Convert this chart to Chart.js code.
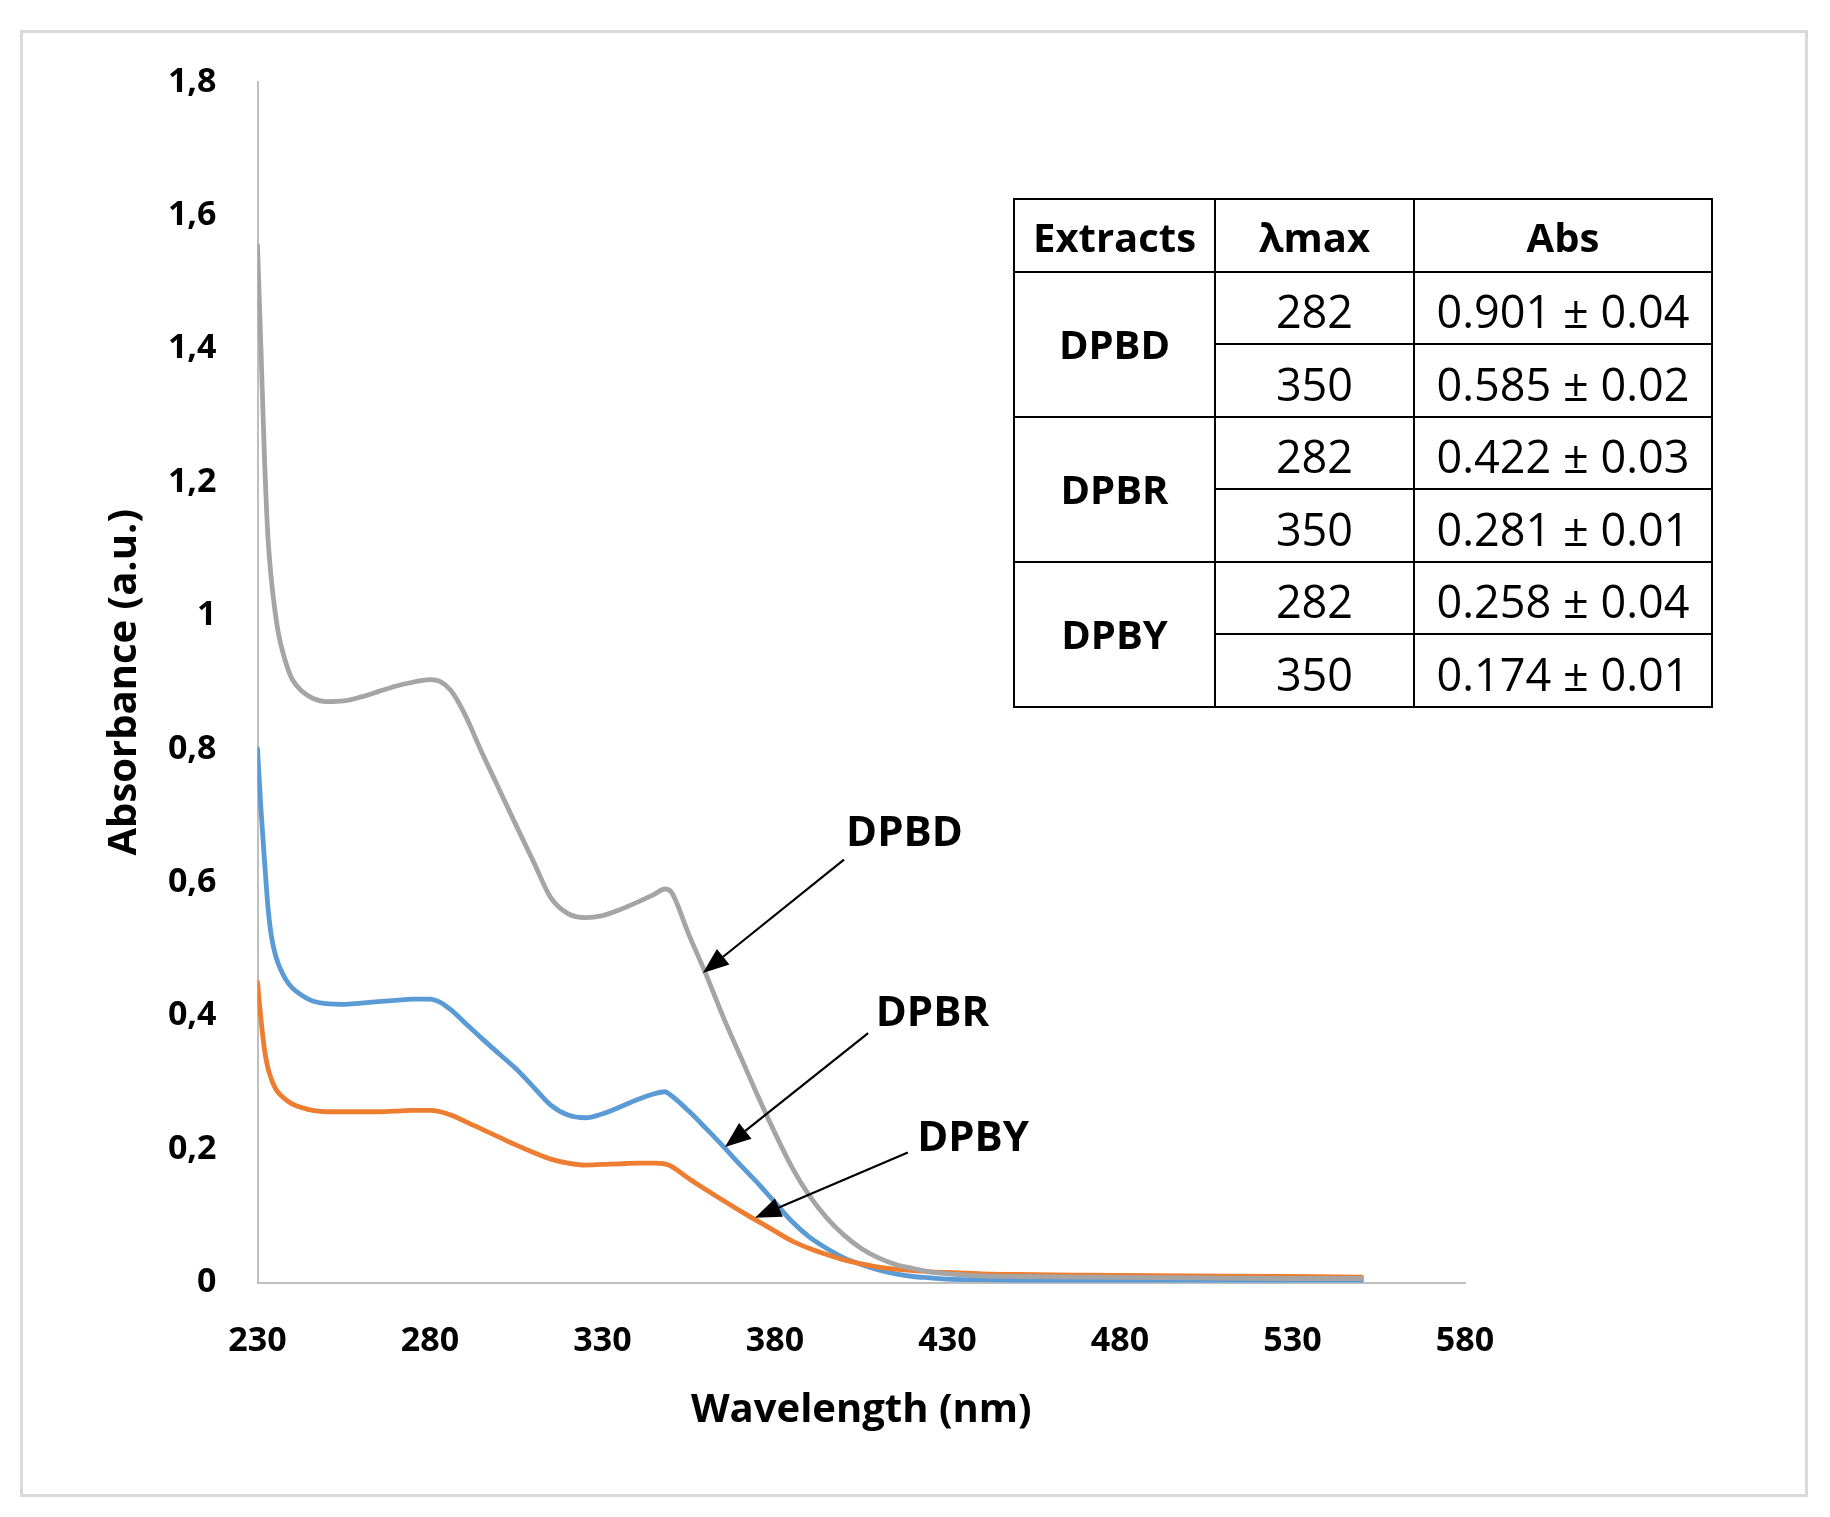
<!DOCTYPE html>
<html>
<head>
<meta charset="utf-8">
<script src="https://cdn.jsdelivr.net/npm/chart.js@4.4.0/dist/chart.umd.min.js"></script>
<style>
  html, body { margin: 0; padding: 0; background: #fff; }
  #wrap { position: relative; width: 1830px; height: 1517px; }
  #frame { position: absolute; left: 20px; top: 30px; width: 1782px; height: 1461px; border: 3px solid #d9d9d9; }
  #chart { position: absolute; left: 0; top: 0; }
  #tbl { position: absolute; left: 1013px; top: 198px; width: 698px; height: 508px;
         border-collapse: collapse; font-family: 'Open Sans', sans-serif; color: #000; table-layout: fixed; }
  #tbl td { border: 2.5px solid #000; text-align: center; padding: 0; font-size: 45px; line-height: 1; padding-top: 6px; }
  #tbl tr { height: 72.5px; }
  #tbl .hd td { font-weight: bold; font-size: 40px; padding-top: 4px; }
  #tbl td.ext { font-weight: bold; font-size: 40px; padding-top: 0; }
</style>
</head>
<body>
<div id="wrap">
  <div id="frame"></div>
  <canvas id="chart" width="1830" height="1517"></canvas>
  <table id="tbl">
    <colgroup><col style="width:201px"><col style="width:199px"><col style="width:298px"></colgroup>
    <tbody id="tbody"></tbody>
  </table>
</div>
<script>
// wavelength (nm) readings
const wavelengths = [230, 231, 232, 233, 234, 235, 236, 238, 240, 243, 246, 250, 255, 260, 265, 270, 275, 280,
  283, 286, 290, 295, 300, 305, 310, 315, 320, 325, 330, 335, 340, 345, 348, 350, 355, 360, 365, 370, 375, 380,
  385, 390, 395, 400, 405, 410, 415, 420, 425, 430, 440, 450, 470, 500, 530, 550];

const absDPBD = [1.555, 1.40, 1.24, 1.12, 1.055, 1.01, 0.975, 0.933, 0.905, 0.886, 0.876, 0.871, 0.872, 0.878, 0.886, 0.894, 0.900, 0.904,
  0.901, 0.888, 0.853, 0.795, 0.740, 0.685, 0.631, 0.577, 0.553, 0.547, 0.550, 0.559, 0.570, 0.582, 0.590, 0.585, 0.522, 0.462, 0.398, 0.339, 0.280, 0.224,
  0.172, 0.130, 0.097, 0.071, 0.051, 0.037, 0.027, 0.021, 0.016, 0.013, 0.010, 0.009, 0.008, 0.007, 0.006, 0.006];

const absDPBR = [0.80, 0.71, 0.635, 0.565, 0.52, 0.495, 0.478, 0.456, 0.442, 0.430, 0.422, 0.418, 0.417, 0.419, 0.421, 0.423, 0.425, 0.425,
  0.420, 0.409, 0.390, 0.366, 0.343, 0.320, 0.293, 0.266, 0.251, 0.247, 0.253, 0.263, 0.274, 0.283, 0.286, 0.280, 0.257, 0.231, 0.204, 0.176, 0.149, 0.120,
  0.091, 0.068, 0.051, 0.037, 0.027, 0.019, 0.013, 0.009, 0.007, 0.005, 0.004, 0.003, 0.003, 0.003, 0.003, 0.003];

const absDPBY = [0.45, 0.395, 0.35, 0.322, 0.305, 0.293, 0.285, 0.275, 0.268, 0.262, 0.258, 0.256, 0.256, 0.256, 0.256, 0.257, 0.258, 0.258,
  0.256, 0.251, 0.242, 0.230, 0.218, 0.206, 0.195, 0.185, 0.179, 0.176, 0.177, 0.178, 0.179, 0.179, 0.178, 0.174, 0.156, 0.139, 0.123, 0.107, 0.092, 0.077,
  0.062, 0.051, 0.042, 0.034, 0.028, 0.023, 0.020, 0.018, 0.016, 0.015, 0.013, 0.012, 0.011, 0.010, 0.009, 0.008];

const xTicks = [230, 280, 330, 380, 430, 480, 530, 580];
const yTicks = [0, 0.2, 0.4, 0.6, 0.8, 1, 1.2, 1.4, 1.6, 1.8];
const yTickLabels = ['0', '0,2', '0,4', '0,6', '0,8', '1', '1,2', '1,4', '1,6', '1,8'];

// callouts: label, text anchor (nm, abs), arrow tail (nm, abs), arrow head (nm, abs)
const calloutNames = ['DPBD', 'DPBR', 'DPBY'];
const calloutText = [[400.6, 0.672], [409.2, 0.402], [421.2, 0.215]];
const calloutTail = [[400.0, 0.634], [407.0, 0.374], [418.5, 0.195]];
const calloutHead = [[359.1, 0.464], [365.5, 0.203], [374.2, 0.097]];

// table
const tableHeader = ['Extracts', 'λmax', 'Abs'];
const tableExtracts = ['DPBD', 'DPBR', 'DPBY'];
const tableLambda = [282, 350];
const tableAbs = [['0.901 ± 0.04', '0.585 ± 0.02'], ['0.422 ± 0.03', '0.281 ± 0.01'], ['0.258 ± 0.04', '0.174 ± 0.01']];

function buildTable() {
  const tb = document.getElementById('tbody');
  let html = '<tr class="hd">' + tableHeader.map(h => `<td>${h}</td>`).join('') + '</tr>';
  tableExtracts.forEach((ex, i) => {
    html += `<tr><td class="ext" rowspan="2">${ex}</td><td>${tableLambda[0]}</td><td>${tableAbs[i][0]}</td></tr>`;
    html += `<tr><td>${tableLambda[1]}</td><td>${tableAbs[i][1]}</td></tr>`;
  });
  tb.innerHTML = html;
}
buildTable();

const toPoints = vals => wavelengths.map((w, i) => ({ x: w, y: vals[i] }));

const calloutPlugin = {
  id: 'callouts',
  afterDatasetsDraw(chart) {
    const { ctx, scales: { x, y } } = chart;
    ctx.save();
    ctx.strokeStyle = '#000';
    ctx.fillStyle = '#000';
    ctx.lineWidth = 2.2;
    calloutNames.forEach((name, i) => {
      const tx = x.getPixelForValue(calloutTail[i][0]), ty = y.getPixelForValue(calloutTail[i][1]);
      const hx = x.getPixelForValue(calloutHead[i][0]), hy = y.getPixelForValue(calloutHead[i][1]);
      const ang = Math.atan2(hy - ty, hx - tx);
      const len = 26, half = 10;
      const bx = hx - len * Math.cos(ang), by = hy - len * Math.sin(ang);
      ctx.beginPath();
      ctx.moveTo(tx, ty);
      ctx.lineTo(bx, by);
      ctx.stroke();
      ctx.beginPath();
      ctx.moveTo(hx, hy);
      ctx.lineTo(bx + half * Math.sin(ang), by - half * Math.cos(ang));
      ctx.lineTo(bx - half * Math.sin(ang), by + half * Math.cos(ang));
      ctx.closePath();
      ctx.fill();

      ctx.font = "bold 42px 'Open Sans'";
      ctx.textAlign = 'left';
      ctx.textBaseline = 'middle';
      ctx.fillText(name, x.getPixelForValue(calloutText[i][0]), y.getPixelForValue(calloutText[i][1]));
    });
    ctx.restore();
  }
};

Chart.defaults.font.family = "'Open Sans'";
Chart.defaults.color = '#000';

new Chart(document.getElementById('chart'), {
  type: 'line',
  data: {
    datasets: [
      { label: 'DPBD', data: toPoints(absDPBD), borderColor: '#a5a5a5' },
      { label: 'DPBY', data: toPoints(absDPBY), borderColor: '#ed7d31' },
      { label: 'DPBR', data: toPoints(absDPBR), borderColor: '#5b9bd5' }
    ]
  },
  options: {
    responsive: false,
    animation: false,
    devicePixelRatio: 1,
    layout: { padding: { left: 0, top: 82, right: 365, bottom: 0 } },
    elements: {
      point: { radius: 0 },
      line: { borderWidth: 4.8, cubicInterpolationMode: 'monotone', fill: false, borderCapStyle: 'round', borderJoinStyle: 'round' }
    },
    plugins: { legend: { display: false }, tooltip: { enabled: false } },
    scales: {
      x: {
        type: 'linear',
        min: 230,
        max: 580,
        afterBuildTicks: s => { s.ticks = xTicks.map(v => ({ value: v })); },
        afterFit: s => { s.height = 234.5; },
        grid: { display: false, drawTicks: false },
        border: { color: '#bfbfbf', width: 2 },
        ticks: { padding: 38, font: { size: 34, weight: 'bold' }, maxRotation: 0 },
        title: { display: true, text: 'Wavelength (nm)', font: { size: 40, weight: 'bold' }, padding: { top: 0, bottom: 82 } }
      },
      y: {
        type: 'linear',
        min: 0,
        max: 1.8,
        afterBuildTicks: s => { s.ticks = yTicks.map(v => ({ value: v })); },
        afterFit: s => { s.width = 257.5; },
        grid: { display: false, drawTicks: false },
        border: { color: '#bfbfbf', width: 2 },
        ticks: {
          padding: 41,
          font: { size: 34, weight: 'bold' },
          callback: (v, i) => yTickLabels[i]
        },
        title: { display: true, text: 'Absorbance (a.u.)', font: { size: 40, weight: 'bold' }, padding: { top: 101, bottom: 0 } }
      }
    }
  },
  plugins: [calloutPlugin]
});
</script>
</body>
</html>
